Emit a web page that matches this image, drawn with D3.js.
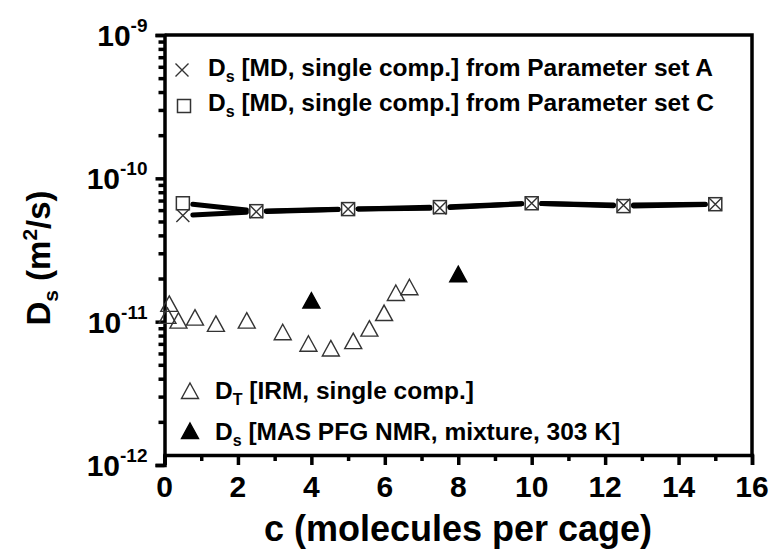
<!DOCTYPE html>
<html>
<head>
<meta charset="utf-8">
<script src="https://cdn.jsdelivr.net/npm/d3@7"></script>
<style>
  body { margin: 0; background: #fff; }
  text { font-family: "Liberation Sans", Arial, sans-serif; font-weight: bold; fill: #000; }
</style>
</head>
<body>
<script>
// values
const mdLoadings = [0.5, 2.5, 5, 7.5, 10, 12.5, 15];
const mdSetA = [5.5e-11, 5.85e-11, 6.1e-11, 6.2e-11, 6.7e-11, 6.5e-11, 6.6e-11];
const mdSetC = [6.7e-11, 5.9e-11, 6.1e-11, 6.3e-11, 6.7e-11, 6.4e-11, 6.6e-11];

const irmLoadings = [0.13, 0.08, 0.38, 0.83, 1.40, 2.24, 3.22, 3.92, 4.53, 5.14, 5.58, 5.98, 6.30, 6.67];
const irmValues = [1.31e-11, 1.08e-11, 1.0e-11, 1.05e-11, 9.5e-12, 1.0e-11, 8.3e-12, 6.9e-12, 6.4e-12, 7.2e-12, 8.8e-12, 1.13e-11, 1.56e-11, 1.71e-11];

const nmrLoadings = [4, 8];
const nmrValues = [1.38e-11, 2.11e-11];

const xTicks = [0, 2, 4, 6, 8, 10, 12, 14, 16];
const yExponents = [-12, -11, -10, -9];

const width = 772, height = 551;

const svg = d3.select("body")
  .append("svg")
  .attr("width", width)
  .attr("height", height);

const x = d3.scaleLinear().domain([0, 16]).range([164.5, 752]);
const y = d3.scaleLog().domain([1e-12, 1e-9]).range([465, 35]);
const xAxisY = 455;

// frame top + right
svg.append("path")
  .attr("d", `M${x(0)},${y(1e-9)}H${x(16)}V${xAxisY}`)
  .attr("fill", "none")
  .attr("stroke", "#000")
  .attr("stroke-width", 3.5);

// x axis
const xMinor = d3.range(1, 16, 2);
const gx = svg.append("g").attr("transform", `translate(0,${xAxisY})`);
gx.call(d3.axisBottom(x).tickValues(xTicks).tickSize(10).tickFormat(""));
gx.append("g").call(d3.axisBottom(x).tickValues(xMinor).tickSize(6).tickFormat(""))
  .select(".domain").remove();
gx.selectAll(".domain").attr("stroke-width", 3.5);
gx.selectAll(".tick line").attr("stroke-width", 3.5);

gx.selectAll(".xlabel")
  .data(xTicks)
  .enter().append("text")
  .attr("x", d => x(d))
  .attr("y", 42)
  .attr("text-anchor", "middle")
  .style("font-size", "30px")
  .text(d => d);

// y axis
const yMinor = [];
yExponents.slice(0, -1).forEach(e => {
  for (let m = 2; m <= 9; m++) yMinor.push(m * Math.pow(10, e));
});
const gy = svg.append("g").attr("transform", `translate(${x(0)},0)`);
gy.call(d3.axisLeft(y).tickValues(yExponents.map(e => Math.pow(10, e))).tickSize(9).tickFormat(""));
gy.append("g").call(d3.axisLeft(y).tickValues(yMinor).tickSize(6).tickFormat(""))
  .select(".domain").remove();
gy.selectAll(".domain").attr("stroke-width", 3.5);
gy.selectAll(".tick line").attr("stroke-width", 3.5);

const yLab = gy.selectAll(".ylabel")
  .data(yExponents)
  .enter().append("text")
  .attr("x", -17)
  .attr("y", d => y(Math.pow(10, d)) + 11)
  .attr("text-anchor", "end")
  .style("font-size", "30px");
yLab.append("tspan").text("10");
yLab.append("tspan")
  .attr("dy", -14)
  .style("font-size", "19px")
  .text(d => "-" + Math.abs(d));

// axis titles
svg.append("text")
  .attr("x", 458)
  .attr("y", 541)
  .attr("text-anchor", "middle")
  .style("font-size", "36px")
  .text("c (molecules per cage)");

const yTitle = svg.append("text")
  .attr("transform", "translate(50,258) rotate(-90)")
  .attr("text-anchor", "middle")
  .style("font-size", "33px");
yTitle.append("tspan").text("D");
yTitle.append("tspan").attr("dy", 8).style("font-size", "21px").text("s");
yTitle.append("tspan").attr("dy", -8).text(" (m");
yTitle.append("tspan").attr("dy", -13).style("font-size", "21px").text("2");
yTitle.append("tspan").attr("dy", 13).text("/s)");

// markers
const markerColor = "#333";
function cross(g, cx, cy, r) {
  g.append("path")
    .attr("d", `M${cx - r},${cy - r}L${cx + r},${cy + r}M${cx - r},${cy + r}L${cx + r},${cy - r}`)
    .attr("stroke", markerColor).attr("stroke-width", 1.4).attr("fill", "none");
}
function square(g, cx, cy, r) {
  g.append("rect")
    .attr("x", cx - r).attr("y", cy - r).attr("width", 2 * r).attr("height", 2 * r)
    .attr("stroke", markerColor).attr("stroke-width", 1.5).attr("fill", "none");
}
function triangle(g, cx, cy, filled) {
  g.append("path")
    .attr("d", `M${cx},${cy - 9}L${cx + 8.5},${cy + 6.5}L${cx - 8.5},${cy + 6.5}Z`)
    .attr("stroke", filled ? "#000" : markerColor).attr("stroke-width", 1.4)
    .attr("fill", filled ? "#000" : "none");
}

// MD lines with a gap round each marker
const gap = 10;
function gappedLine(vals) {
  const pts = mdLoadings.map((c, i) => [x(c), y(vals[i])]);
  for (let i = 0; i < pts.length - 1; i++) {
    const [x1, y1] = pts[i], [x2, y2] = pts[i + 1];
    const len = Math.hypot(x2 - x1, y2 - y1);
    const ux = (x2 - x1) / len, uy = (y2 - y1) / len;
    svg.append("line")
      .attr("x1", x1 + ux * gap).attr("y1", y1 + uy * gap)
      .attr("x2", x2 - ux * gap).attr("y2", y2 - uy * gap)
      .attr("stroke", "#000").attr("stroke-width", 5).attr("stroke-linecap", "round");
  }
}
gappedLine(mdSetA);
gappedLine(mdSetC);

const marks = svg.append("g");
mdLoadings.forEach((c, i) => cross(marks, x(c), y(mdSetA[i]), 6.5));
mdLoadings.forEach((c, i) => square(marks, x(c), y(mdSetC[i]), 6.5));
irmLoadings.forEach((c, i) => triangle(marks, x(c), y(irmValues[i]), false));
nmrLoadings.forEach((c, i) => triangle(marks, x(c), y(nmrValues[i]), true));

// legends
function legendText(tx, ty, sub, rest) {
  const t = svg.append("text").attr("x", tx).attr("y", ty).style("font-size", "24.5px");
  t.append("tspan").text("D");
  t.append("tspan").attr("dy", 6).style("font-size", "16px").text(sub);
  t.append("tspan").attr("dy", -6).text(" " + rest);
}
cross(svg, 182, 70, 6.5);
legendText(208, 76, "s", "[MD, single comp.] from Parameter set A");
square(svg, 184, 106, 6.5);
legendText(208, 111, "s", "[MD, single comp.] from Parameter set C");
triangle(svg, 190, 392, false);
legendText(215, 399, "T", "[IRM, single comp.]");
triangle(svg, 190, 432, true);
legendText(215, 440, "s", "[MAS PFG NMR, mixture, 303 K]");
</script>
</body>
</html>
